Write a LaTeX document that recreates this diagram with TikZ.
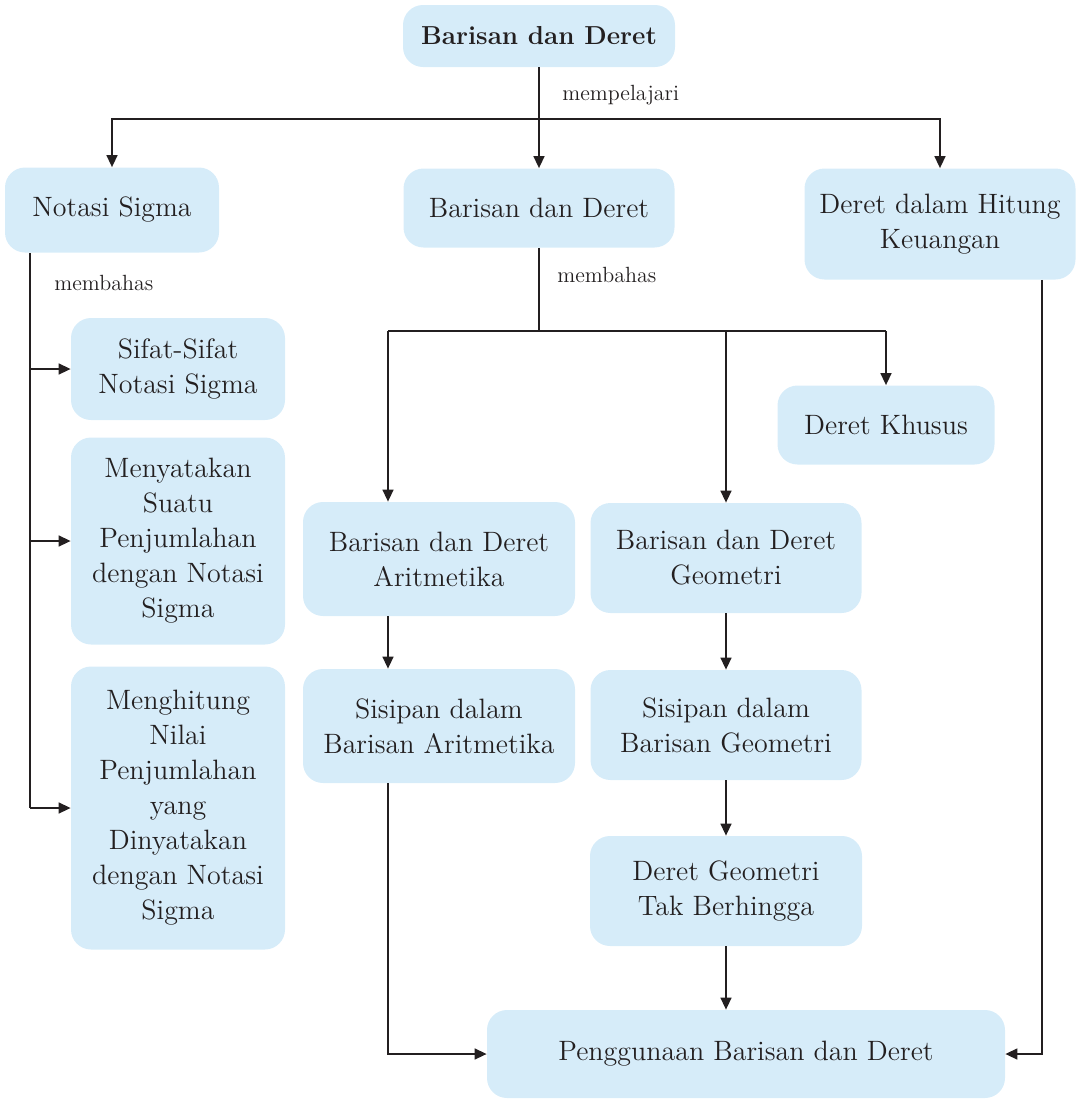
\documentclass[tikz,border=0pt]{standalone}
\usetikzlibrary{arrows.meta}
\definecolor{boxblue}{RGB}{214,236,249}
\definecolor{ink}{RGB}{35,31,32}
\tikzset{box node/.style={rectangle,rounded corners=10pt,fill=boxblue,align=center,inner
sep=2pt,text=ink,font=\fontsize{14}{17.5}\selectfont}}
\tikzset{lab node/.style={anchor=west,inner sep=0pt,text=ink,font=\fontsize{11}{14}\selectfont}}
\tikzset{arr/.style={draw=ink,line width=0.75pt,-{Triangle[length=6pt,width=5.5pt]}}}
\tikzset{ln/.style={draw=ink,line width=0.75pt}}

\begin{document}
\begin{tikzpicture}[x=0.5pt,y=-0.5pt]
\useasboundingbox (0,0) rectangle (1076,1100);

% boxes
\node[box node,minimum width=136pt,minimum height=31pt,font=\fontsize{13}{17.5}\selectfont\bfseries] (top) at (539,36) {Barisan dan Deret};
\node[box node,minimum width=107pt,minimum height=42.5pt] (sigma) at (112,210) {Notasi Sigma};
\node[box node,minimum width=135.5pt,minimum height=39.5pt] (bd) at (539,208) {Barisan dan Deret};
\node[box node,minimum width=135.5pt,minimum height=55.5pt] (uang) at (940,224) {Deret dalam Hitung\\Keuangan};

\node[box node,minimum width=107pt,minimum height=51pt] (sifat) at (178,369) {Sifat-Sifat\\Notasi Sigma};
\node[box node,minimum width=107pt,minimum height=103.5pt] (nyata) at (178,541) {Menyatakan\\Suatu\\Penjumlahan\\dengan Notasi\\Sigma};
\node[box node,minimum width=107pt,minimum height=141.5pt] (hitung) at (178,808) {Menghitung\\Nilai\\Penjumlahan\\yang\\Dinyatakan\\dengan Notasi\\Sigma};

\node[box node,minimum width=108.5pt,minimum height=39.5pt] (khusus) at (886,425) {Deret Khusus};
\node[box node,minimum width=136pt,minimum height=57pt] (arit) at (439,559) {Barisan dan Deret\\Aritmetika};
\node[box node,minimum width=135.5pt,minimum height=55pt] (geo) at (726,558) {Barisan dan Deret\\Geometri};
\node[box node,minimum width=136pt,minimum height=57pt] (sisa) at (439,726) {Sisipan dalam\\Barisan Aritmetika};
\node[box node,minimum width=135.5pt,minimum height=55pt] (sisg) at (726,725) {Sisipan dalam\\Barisan Geometri};
\node[box node,minimum width=136pt,minimum height=55pt] (dgt) at (726,891) {Deret Geometri\\Tak Berhingga};
\node[box node,minimum width=259pt,minimum height=44pt] (pakai) at (746,1054) {Penggunaan Barisan dan Deret};

% labels
\node[lab node] (lpel) at (562,95) {mempelajari};
\node[lab node] (lbah1) at (54,283) {membahas};
\node[lab node] (lbah2) at (557,275) {membahas};

% top level
\coordinate (t1) at (539,119);
\draw[ln] (top) -- (t1);
\draw[arr] (t1) -| (sigma);
\draw[arr] (t1) -- (bd);
\draw[arr] (t1) -| (uang);

% notasi sigma
\coordinate (lb) at (30,813);
\draw[ln] (sigma.south -| lb) -- (lb |- hitung.west);
\foreach \n in {sifat,nyata,hitung}{
    \draw[arr] (\n.west -| lb) -- (\n.west);
}

% barisan dan deret
\coordinate (m1) at (539,331);
\coordinate (ma) at (388,331);
\coordinate (mk) at (886,331);
\draw[ln] (bd) -- (m1);
\draw[ln] (ma) -- (mk);
\draw[arr] (ma) -- (arit.north -| ma);
\draw[arr] (geo.north |- m1) -- (geo);
\draw[arr] (mk) -- (khusus);

\draw[arr] (arit.south -| ma) -- (sisa.north -| ma);
\draw[arr] (geo) -- (sisg);
\draw[arr] (sisg) -- (dgt);
\draw[arr] (dgt) -- (dgt |- pakai.north);

% to penggunaan
\coordinate (kr) at (1042,0);
\draw[arr] (sisa.south -| ma) |- (pakai);
\draw[arr] (uang.south -| kr) |- (pakai);
\end{tikzpicture}
\end{document}
